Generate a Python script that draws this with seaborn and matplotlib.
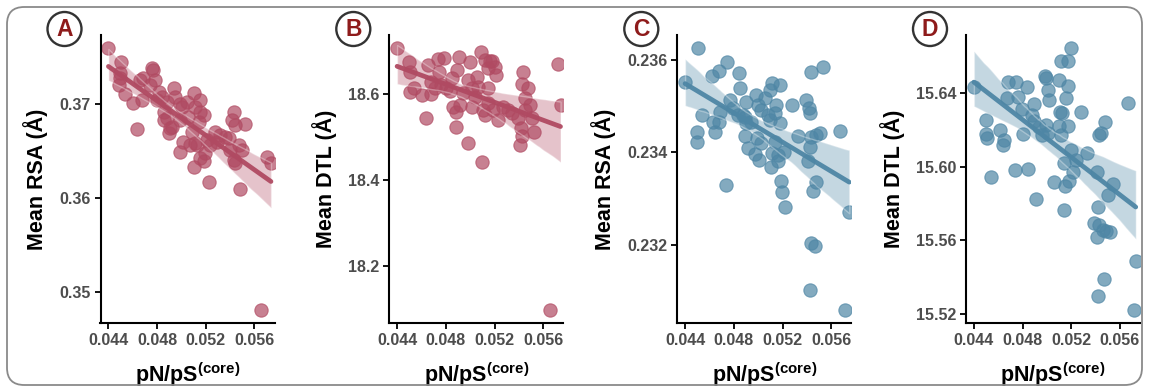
import matplotlib
matplotlib.use("Agg")
import matplotlib.pyplot as plt
from matplotlib.patches import FancyBboxPatch, Ellipse
import pandas as pd
import seaborn as sns

sns.set_theme(style="ticks")
plt.rcParams["font.family"] = ["Liberation Sans", "DejaVu Sans"]
plt.rcParams["mathtext.fontset"] = "custom"
plt.rcParams["mathtext.rm"] = "Liberation Sans"
plt.rcParams["mathtext.bf"] = "Liberation Sans:bold"

# ---------------------------------------------------------------- data
# panel A: pN/pS(core) vs mean RSA
x_a = [0.0440, 0.04504, 0.04496, 0.0449, 0.04537, 0.04606, 0.04633, 0.04661, 0.04688,
       0.04674, 0.04757, 0.0477, 0.04784, 0.04743, 0.04812, 0.04839, 0.0488, 0.04853,
       0.04853, 0.04894, 0.04921, 0.04935, 0.0499, 0.05004, 0.0499, 0.05017, 0.0499,
       0.05058, 0.051, 0.05113, 0.05154, 0.05154, 0.05182, 0.05141, 0.05086, 0.05113,
       0.05127, 0.05209, 0.05195, 0.05154, 0.05182, 0.051, 0.05223, 0.05278, 0.05319,
       0.0536, 0.05388, 0.05429, 0.05415, 0.05443, 0.05525, 0.0547, 0.05497, 0.05429,
       0.05443, 0.05478, 0.05703, 0.05736, 0.05657, 0.0488, 0.04949, 0.05045, 0.05237,
       0.05292, 0.05072, 0.04798, 0.04907, 0.05401, 0.04496]
rsa_a = [0.3759, 0.37438, 0.37268, 0.3720, 0.37098, 0.37002, 0.36725, 0.3725, 0.37268,
         0.37037, 0.37374, 0.37356, 0.3725, 0.3720, 0.37126, 0.37073, 0.3702, 0.36913,
         0.36824, 0.36682, 0.36754, 0.37161, 0.3700, 0.36966, 0.36824, 0.36594, 0.3648,
         0.3686, 0.37108, 0.36966, 0.37037, 0.36913, 0.36877, 0.36806, 0.367, 0.36576,
         0.36559, 0.36611, 0.3647, 0.36417, 0.36388, 0.36328, 0.36168, 0.36693, 0.36665,
         0.36647, 0.3663, 0.36913, 0.36824, 0.36771, 0.36778, 0.36559, 0.36505, 0.36399,
         0.36364, 0.3609, 0.36434, 0.3637, 0.3480, 0.36842, 0.37073, 0.3702, 0.36559,
         0.36594, 0.36558, 0.37037, 0.36736, 0.36505, 0.3732]

# panel B: pN/pS(core) vs mean DTL
x_b = [0.04399, 0.04495, 0.04504, 0.04649, 0.04737, 0.04786, 0.04907, 0.04998, 0.05088,
       0.05121, 0.05181, 0.05148, 0.05209, 0.04892, 0.04851, 0.04745, 0.04679, 0.04541,
       0.04504, 0.04601, 0.04679, 0.04634, 0.04805, 0.04859, 0.04887, 0.04915, 0.05011,
       0.04983, 0.05052, 0.05066, 0.05148, 0.05107, 0.05121, 0.05189, 0.0523, 0.04887,
       0.04983, 0.05099, 0.05271, 0.0534, 0.05395, 0.05436, 0.05422, 0.05477, 0.05449,
       0.0549, 0.05449, 0.05417, 0.05428, 0.05408, 0.0551, 0.05527, 0.05723, 0.05742,
       0.05653, 0.04763, 0.0483, 0.0494, 0.05011, 0.05148, 0.05039, 0.05307, 0.04709,
       0.05203, 0.05162]
dtl_b = [18.7073, 18.6746, 18.6528, 18.6683, 18.6824, 18.6855, 18.6878, 18.6746, 18.6979,
         18.6801, 18.6777, 18.6606, 18.645, 18.6567, 18.6373, 18.6513, 18.6295, 18.6155,
         18.6046, 18.5984, 18.5999, 18.5439, 18.6139, 18.5711, 18.5594, 18.575, 18.5711,
         18.6334, 18.6411, 18.6178, 18.6139, 18.5634, 18.5517, 18.5634, 18.54, 18.5222,
         18.4856, 18.4413, 18.5711, 18.5556, 18.5439, 18.6528, 18.6233, 18.6155, 18.5906,
         18.575, 18.5634, 18.5206, 18.5012, 18.4818, 18.5439, 18.5113, 18.6699, 18.575,
         18.0966, 18.6218, 18.6062, 18.6023, 18.6139, 18.5789, 18.5922, 18.5634, 18.6139,
         18.6645, 18.6762]

# panel C: pN/pS(core) vs mean RSA
x_c = [0.04399, 0.04504, 0.04537, 0.04499, 0.04499, 0.04621, 0.04675, 0.04747, 0.0484,
       0.04848, 0.04628, 0.04648, 0.04675, 0.04684, 0.04766, 0.04793, 0.04834, 0.04875,
       0.04903, 0.04938, 0.0489, 0.04916, 0.04985, 0.04999, 0.0502, 0.05058, 0.04994,
       0.0502, 0.04977, 0.05004, 0.05095, 0.05114, 0.05178, 0.05095, 0.05149, 0.0514,
       0.05178, 0.05137, 0.05114, 0.05104, 0.05164, 0.05214, 0.05274, 0.05329, 0.0519,
       0.05196, 0.05223, 0.04738, 0.05396, 0.05415, 0.05424, 0.05432, 0.05533, 0.0543,
       0.05478, 0.05506, 0.05424, 0.0541, 0.05471, 0.05452, 0.05671, 0.05748, 0.05437,
       0.0547, 0.05424, 0.05712, 0.0489, 0.04903, 0.05081, 0.05164]
rsa_c = [0.235517, 0.236267, 0.234811, 0.234436, 0.234234, 0.235661, 0.235762, 0.23595,
         0.235712, 0.235402, 0.234667, 0.23445, 0.234652, 0.234868, 0.235135, 0.234955,
         0.234811, 0.234811, 0.235099, 0.234652, 0.234364, 0.23409, 0.235243, 0.235027,
         0.234919, 0.235171, 0.234306, 0.234198, 0.23396, 0.233838, 0.234703, 0.235495,
         0.235459, 0.235351, 0.235027, 0.234847, 0.234631, 0.234234, 0.233982, 0.233694,
         0.233816, 0.234018, 0.235027, 0.234364, 0.233384, 0.233153, 0.232829, 0.233297,
         0.235135, 0.234955, 0.234847, 0.235748, 0.235856, 0.234342, 0.234378, 0.234414,
         0.234126, 0.233816, 0.233369, 0.233168, 0.234465, 0.232706, 0.232036, 0.231978,
         0.231014, 0.230595, 0.234775, 0.234631, 0.234811, 0.233946]

# panel D: pN/pS(core) vs mean DTL
x_d = [0.0440, 0.04683, 0.04749, 0.0484, 0.04985, 0.04991, 0.05114, 0.05177, 0.05196,
       0.051, 0.05177, 0.05005, 0.05019, 0.05155, 0.04502, 0.04496, 0.0451, 0.04611,
       0.04647, 0.04639, 0.04537, 0.04738, 0.04847, 0.04913, 0.04675, 0.04765, 0.04793,
       0.04804, 0.04894, 0.0488, 0.04894, 0.04935, 0.04991, 0.05005, 0.04963, 0.05107,
       0.05128, 0.05177, 0.051, 0.05278, 0.05114, 0.05196, 0.05141, 0.05237, 0.05333,
       0.05216, 0.05183, 0.0515, 0.05059, 0.05141, 0.05429, 0.05443, 0.05478, 0.05415,
       0.05539, 0.05498, 0.05423, 0.05664, 0.05388, 0.05429, 0.05457, 0.05415, 0.05484,
       0.05516, 0.0573, 0.0547, 0.05421, 0.05712]
dtl_d = [15.6433, 15.646, 15.6456, 15.6433, 15.6492, 15.6478, 15.6572, 15.6572, 15.6644,
         15.6469, 15.6438, 15.6415, 15.6361, 15.6373, 15.6252, 15.6175, 15.6153, 15.6198,
         15.6144, 15.6117, 15.5946, 15.5982, 15.5987, 15.5825, 15.637, 15.6379, 15.6312,
         15.6175, 15.6337, 15.6279, 15.6247, 15.6216, 15.6225, 15.618, 15.6171, 15.6294,
         15.6289, 15.6221, 15.6221, 15.6294, 15.6171, 15.609, 15.6018, 15.6036, 15.6072,
         15.5969, 15.5922, 15.5897, 15.5915, 15.5765, 15.6171, 15.618, 15.6239, 15.5969,
         15.5904, 15.5846, 15.5783, 15.6342, 15.5693, 15.5684, 15.5657, 15.562, 15.5653,
         15.5644, 15.5489, 15.5392, 15.5299, 15.5224]

x_ticks = [0.044, 0.048, 0.052, 0.056]
panel_letters = ["A", "B", "C", "D"]
y_titles = ["Mean RSA (Å)", "Mean DTL (Å)", "Mean RSA (Å)", "Mean DTL (Å)"]
y_ticks = [[0.35, 0.36, 0.37], [18.2, 18.4, 18.6],
           [0.232, 0.234, 0.236], [15.52, 15.56, 15.60, 15.64]]
y_fmt = ["{:.2f}", "{:.1f}", "{:.3f}", "{:.2f}"]
y_lims = [(0.34665, 0.37729), (18.066, 18.738), (0.23031, 0.23654), (15.5153, 15.6712)]

RED, BLUE = "#B04A62", "#4E86A5"
panels = [(x_a, rsa_a, RED), (x_b, dtl_b, RED), (x_c, rsa_c, BLUE), (x_d, dtl_d, BLUE)]

# ---------------------------------------------------------------- figure
W, H = 1149, 391
fig = plt.figure(figsize=(W / 100, H / 100), dpi=100)
fig.patch.set_facecolor("white")

# rounded frame around the whole figure
frame = FancyBboxPatch((7 / W, 6 / H), (1142 - 7) / W, (384 - 6) / H,
                       boxstyle="round,pad=0,rounding_size=0.015",
                       transform=fig.transFigure, fill=False,
                       edgecolor="#8a8a8a", linewidth=1.3, mutation_aspect=W / H)
fig.patches.append(frame)

lefts_px = [100.5, 389.3, 677.3, 966.0]
ax_w, ax_top, ax_bot = 174, 35, 323

for i, (xs, ys, col) in enumerate(panels):
    ax = fig.add_axes([lefts_px[i] / W, (H - ax_bot) / H, ax_w / W, (ax_bot - ax_top) / H])
    df = pd.DataFrame({"x": xs, "y": ys})
    sns.regplot(data=df, x="x", y="y", ax=ax, color=col, seed=0, truncate=True,
                scatter_kws=dict(s=92, alpha=0.7, edgecolor=col, linewidths=0.8),
                line_kws=dict(lw=3.4, alpha=0.95))
    # darker confidence band, as in the original
    for coll in ax.collections[1:]:
        coll.set_alpha(0.33)
    ax.set_xlim(0.04335, 0.05765)
    ax.set_ylim(*y_lims[i])
    ax.set_xticks(x_ticks)
    ax.set_xticklabels([f"{t:.3f}" for t in x_ticks])
    ax.set_yticks(y_ticks[i])
    ax.set_yticklabels([y_fmt[i].format(t) for t in y_ticks[i]])
    sns.despine(ax=ax)
    for s in ["left", "bottom"]:
        ax.spines[s].set_linewidth(1.5)
        ax.spines[s].set_color("black")
    ax.tick_params(axis="both", length=4, width=1.3, color="black",
                   labelsize=11.5, labelcolor="#4D4D4D", pad=3)
    for lab in ax.get_xticklabels() + ax.get_yticklabels():
        lab.set_fontweight("bold")
    ax.set_xlabel(r"pN/pS$^{\mathbf{(core)}}$", fontsize=15.5, fontweight="bold",
                  color="black", labelpad=9)
    ax.set_ylabel(y_titles[i], fontsize=15.5, fontweight="bold", color="black", labelpad=8)
    ax.set_facecolor("white")

    # circled panel letter
    cx, cy = (lefts_px[i] - 36) / W, (H - 29) / H
    fig.patches.append(Ellipse((cx, cy), 34 / W, 34 / H, transform=fig.transFigure,
                               fill=False, edgecolor="#333333", linewidth=1.7))
    fig.text(cx, cy, panel_letters[i], ha="center", va="center", fontsize=16.5,
             fontweight="bold", color="#8E1B1B")

fig.savefig("out.png", dpi=100, facecolor="white")
